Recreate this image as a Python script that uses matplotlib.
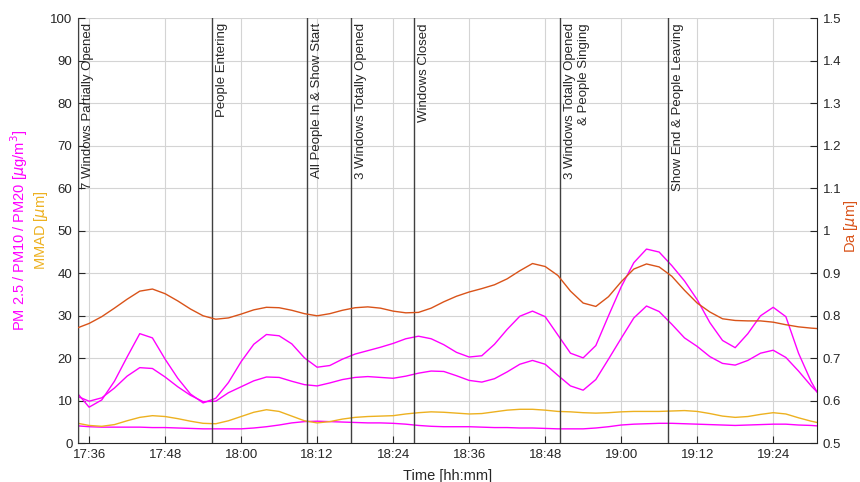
import matplotlib.pyplot as plt
import matplotlib.dates as mdates
import matplotlib.ticker as mticker
import pandas as pd

plt.rcParams['font.family'] = ['Liberation Sans', 'DejaVu Sans']

day = "2000-01-01 "

# sampling instants: first/last reading plus the 2-minute grid in between
sample_times = pd.DatetimeIndex(
    [pd.Timestamp(day + "17:34:15")]
    + list(pd.date_range(day + "17:36", day + "19:30", freq="2min"))
    + [pd.Timestamp(day + "19:30:55")]
)

pm20 = [11.6, 8.5, 10.2, 14.6, 20.3, 25.8, 24.8, 19.8, 15.3, 11.6,
        9.5, 10.6, 14.3, 19.2, 23.3, 25.6, 25.3, 23.4, 20.1, 17.9,
        18.3, 19.8, 21.0, 21.8, 22.6, 23.5, 24.6, 25.2, 24.6, 23.2,
        21.4, 20.3, 20.6, 23.3, 26.8, 29.9, 31.1, 29.8, 25.5, 21.2,
        20.1, 23.0, 30.0, 36.8, 42.5, 45.7, 45.0, 41.8, 38.2, 33.8,
        28.4, 24.2, 22.5, 25.8, 30.0, 32.0, 29.8, 21.2, 14.5, 12.1]

pm10 = [11.0, 9.9, 10.7, 13.0, 15.8, 17.8, 17.6, 15.6, 13.3, 11.3,
        9.8, 9.9, 11.9, 13.3, 14.7, 15.6, 15.5, 14.6, 13.8, 13.5,
        14.2, 15.0, 15.5, 15.7, 15.5, 15.3, 15.8, 16.5, 17.0, 16.9,
        15.9, 14.8, 14.4, 15.2, 16.8, 18.6, 19.5, 18.6, 16.0, 13.5,
        12.5, 15.0, 19.8, 24.7, 29.5, 32.3, 31.0, 28.0, 24.8, 22.8,
        20.4, 18.8, 18.4, 19.5, 21.2, 21.9, 20.2, 17.0, 13.5, 12.1]

pm25 = [4.1, 3.9, 3.8, 3.8, 3.8, 3.8, 3.7, 3.7, 3.6, 3.5,
        3.4, 3.4, 3.4, 3.4, 3.6, 3.9, 4.3, 4.8, 5.1, 5.2,
        5.1, 5.0, 4.9, 4.8, 4.8, 4.7, 4.5, 4.2, 4.0, 3.9,
        3.9, 3.9, 3.8, 3.7, 3.7, 3.6, 3.6, 3.5, 3.4, 3.4,
        3.4, 3.6, 3.9, 4.3, 4.5, 4.6, 4.7, 4.7, 4.6, 4.5,
        4.4, 4.3, 4.2, 4.3, 4.4, 4.5, 4.5, 4.3, 4.2, 4.1]

mmad = [4.7, 4.2, 4.0, 4.4, 5.3, 6.1, 6.5, 6.3, 5.8, 5.2,
        4.7, 4.6, 5.3, 6.3, 7.3, 7.9, 7.5, 6.4, 5.3, 4.8,
        5.1, 5.7, 6.1, 6.3, 6.4, 6.5, 6.9, 7.2, 7.4, 7.3,
        7.1, 6.9, 7.0, 7.4, 7.8, 8.0, 8.0, 7.8, 7.5, 7.4,
        7.2, 7.1, 7.2, 7.4, 7.5, 7.5, 7.5, 7.6, 7.7, 7.5,
        7.0, 6.4, 6.1, 6.3, 6.8, 7.2, 6.9, 6.0, 5.2, 4.9]

da = [0.772, 0.782, 0.798, 0.818, 0.839, 0.858, 0.863, 0.852, 0.835, 0.816,
      0.800, 0.792, 0.795, 0.804, 0.814, 0.820, 0.819, 0.813, 0.805, 0.800,
      0.805, 0.813, 0.819, 0.821, 0.818, 0.811, 0.807, 0.808, 0.818, 0.833,
      0.846, 0.856, 0.864, 0.873, 0.887, 0.906, 0.923, 0.916, 0.895, 0.858,
      0.830, 0.822, 0.845, 0.880, 0.910, 0.922, 0.915, 0.893, 0.860, 0.830,
      0.809, 0.793, 0.789, 0.788, 0.788, 0.785, 0.779, 0.774, 0.771, 0.770]

event_times = ["17:34:15", "17:55:20", "18:10:20", "18:17:20",
               "18:27:20", "18:50:20", "19:07:20"]
event_labels = ["7 Windows Partially Opened", "People Entering",
                "All People In & Show Start", "3 Windows Totally Opened",
                "Windows Closed", "3 Windows Totally Opened\n& People Singing",
                "Show End & People Leaving"]

MAGENTA = '#FF00FF'
YELLOW = '#EDB120'
ORANGE = '#D95319'
INK = '#262626'

fig = plt.figure(figsize=(8.6, 4.82), dpi=100)
ax = fig.add_axes([0.0907, 0.0803, 0.8593, 0.8817])

line_kw = dict(lw=1.0, solid_joinstyle='round')
ax.plot(sample_times, pm20, color=MAGENTA, **line_kw)
ax.plot(sample_times, pm10, color=MAGENTA, **line_kw)
ax.plot(sample_times, pm25, color=MAGENTA, **line_kw)
ax.plot(sample_times, mmad, color=YELLOW, **line_kw)

for t, label in zip(event_times, event_labels):
    when = pd.Timestamp(day + t)
    ax.axvline(when, color='#404040', lw=1.0, zorder=3)
    ax.annotate(label, xy=(when, 1), xycoords=('data', 'axes fraction'),
                xytext=(3, -3.5), textcoords='offset points',
                rotation=90, ha='left', va='top', multialignment='right',
                fontsize=9.5, color=INK)

ax.set_xlim(sample_times[0], sample_times[-1])
ax.set_ylim(0, 100)
ax.yaxis.set_major_locator(mticker.MultipleLocator(10))
ax.xaxis.set_major_locator(mdates.MinuteLocator(byminute=[0, 12, 24, 36, 48]))
ax.xaxis.set_major_formatter(mdates.DateFormatter('%H:%M'))
ax.grid(True, color='#d4d4d4', lw=0.8)
ax.set_axisbelow(True)
ax.tick_params(direction='in', length=5, labelsize=9.5, colors=INK, pad=4)
ax.spines['top'].set_visible(False)
ax.spines['right'].set_visible(False)
for s in ('left', 'bottom'):
    ax.spines[s].set_color(INK)

ax2 = ax.twinx()
ax2.plot(sample_times, da, color=ORANGE, **line_kw)
ax2.set_ylim(0.5, 1.5)
ax2.yaxis.set_major_locator(mticker.MultipleLocator(0.1))
ax2.yaxis.set_major_formatter(mticker.FormatStrFormatter('%g'))
ax2.tick_params(direction='in', length=5, labelsize=9.5, colors=INK, pad=4)
ax2.spines['top'].set_visible(False)
ax2.spines['left'].set_visible(False)
ax2.spines['bottom'].set_visible(False)
ax2.spines['right'].set_color(INK)

mid = 1 - 230.8 / 482
fig.text(19 / 860, mid, r'PM 2.5 / PM10 / PM20 [$\mu$g/m$^3$]', rotation=90,
         color=MAGENTA, ha='center', va='center', fontsize=10.5)
fig.text(41 / 860, mid, r'MMAD [$\mu$m]', rotation=90,
         color=YELLOW, ha='center', va='center', fontsize=10.5)
fig.text(851 / 860, 1 - 226 / 482, r'Da [$\mu$m]', rotation=90,
         color=ORANGE, ha='center', va='center', fontsize=10.5)
ax.set_xlabel('Time [hh:mm]', fontsize=10.5, color=INK, labelpad=6)

fig.savefig('out.png', dpi=100)
